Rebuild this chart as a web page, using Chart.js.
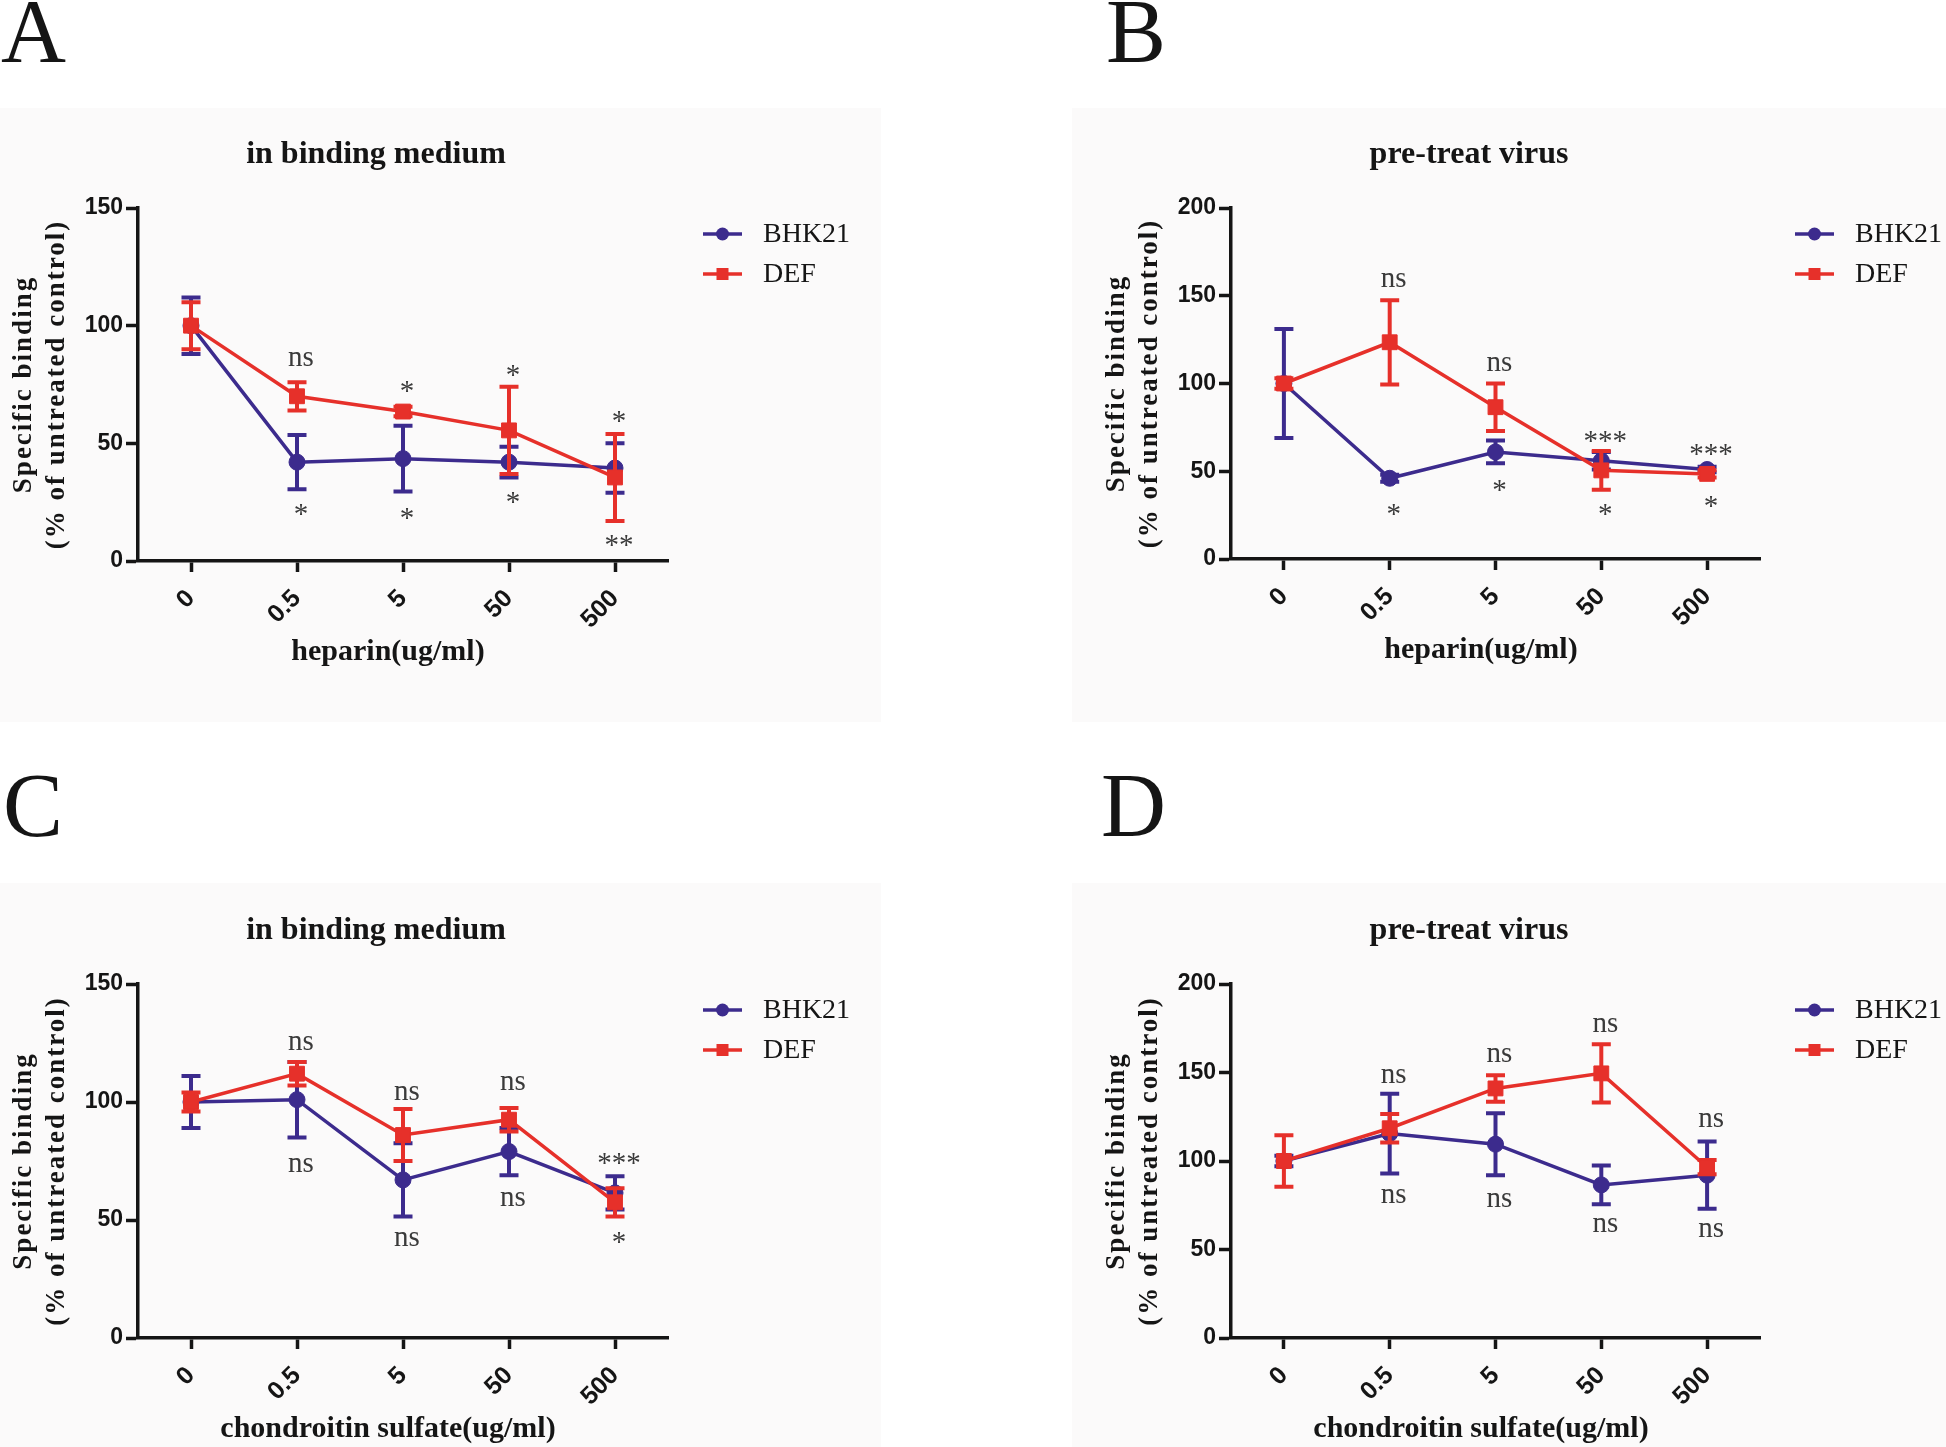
<!DOCTYPE html>
<html>
<head>
<meta charset="utf-8">
<script src="https://cdn.jsdelivr.net/npm/chart.js@4.4.1/dist/chart.umd.min.js"></script>
<style>
html, body { margin: 0; padding: 0; background: #ffffff; }
body { width: 1946px; height: 1447px; position: relative; overflow: hidden; }
.panel { position: absolute; background: #fbfafa; }
.panel canvas { position: absolute; left: 0; top: 0; }
.letter { position: absolute; font-family: 'Liberation Serif', 'Times New Roman', serif; font-size: 90px; line-height: 90px; color: #151515; }
</style>
</head>
<body>
<div class="letter" style="left:1px;top:-13px">A</div>
<div class="letter" style="left:1106px;top:-13px">B</div>
<div class="letter" style="left:3px;top:761px">C</div>
<div class="letter" style="left:1101px;top:761px">D</div>

<div class="panel" style="left:0;top:108px;width:881px;height:614px"><canvas id="cA"></canvas></div>
<div class="panel" style="left:1072px;top:108px;width:874px;height:614px"><canvas id="cB"></canvas></div>
<div class="panel" style="left:0;top:883px;width:881px;height:564px"><canvas id="cC"></canvas></div>
<div class="panel" style="left:1072px;top:883px;width:874px;height:564px"><canvas id="cD"></canvas></div>

<script>
// ---------------- data ----------------
const categories = ['0', '0.5', '5', '50', '500'];
const seriesNames = ['BHK21', 'DEF'];
const yTitleLines = ['Specific binding', '(% of untreated control)'];

// A: heparin, in binding medium
const bhk21HepMedium    = [100, 42, 43.5, 42, 39.5];
const bhk21HepMediumErr = [12, 11.5, 14, 6.5, 10.5];
const defHepMedium      = [100, 70, 63.5, 55.5, 35.5];
const defHepMediumErr   = [10, 6, 2, 18.5, 18.5];
const sigHepMediumText  = ['ns', '*', '*', '*', '*', '*', '*', '**'];
const sigHepMediumCat   = [1, 2, 3, 4, 1, 2, 3, 4];
const sigHepMediumY     = [86, 74, 81, 61.5, 22, 20, 27, 8.5];

// B: heparin, pre-treat virus
const bhk21HepVirus     = [100, 46, 61, 56, 51];
const bhk21HepVirusErr  = [31, 2, 6.5, 5, 1.5];
const defHepVirus       = [100, 123.5, 86.5, 50.5, 48.5];
const defHepVirusErr    = [3, 24, 13.5, 11, 2];
const sigHepVirusText   = ['ns', 'ns', '***', '***', '*', '*', '*', '*'];
const sigHepVirusCat    = [1, 2, 3, 4, 1, 2, 3, 4];
const sigHepVirusY      = [159, 111, 70, 62.5, 28, 42, 28, 33];

// C: chondroitin sulfate, in binding medium
const bhk21CsMedium     = [100, 101, 67, 79, 61.5];
const bhk21CsMediumErr  = [11, 16, 15.5, 10, 7];
const defCsMedium       = [100, 112, 86, 92.5, 57.5];
const defCsMediumErr    = [4, 5, 11, 5, 6];
const sigCsMediumText   = ['ns', 'ns', 'ns', '***', 'ns', 'ns', 'ns', '*'];
const sigCsMediumCat    = [1, 2, 3, 4, 1, 2, 3, 4];
const sigCsMediumY      = [125, 104, 108, 76, 73.5, 42, 59, 42.5];

// D: chondroitin sulfate, pre-treat virus
const bhk21CsVirus      = [100, 115.5, 109.5, 86.5, 92];
const bhk21CsVirusErr   = [3, 22.5, 17.5, 11, 19];
const defCsVirus        = [100, 118.5, 141, 149.5, 96.5];
const defCsVirusErr     = [14.5, 8, 7.5, 16.5, 4];
const sigCsVirusText    = ['ns', 'ns', 'ns', 'ns', 'ns', 'ns', 'ns', 'ns'];
const sigCsVirusCat     = [1, 2, 3, 4, 1, 2, 3, 4];
const sigCsVirusY       = [148, 160, 177, 123, 80, 78, 64, 61];

// ---------------- styles ----------------
const BLUE = '#3c2b8d';
const RED = '#e6302a';
const INK = '#151515';
const SERIF = "'Liberation Serif', 'Times New Roman', serif";
const SANS = "'Liberation Sans', Arial, sans-serif";

function drawCenteredText(ctx, text, x, y) {
  ctx.textBaseline = 'alphabetic';
  const m = ctx.measureText(text);
  ctx.fillText(text, x, y + (m.actualBoundingBoxAscent - m.actualBoundingBoxDescent) / 2);
}

const decorPlugin = {
  id: 'decor',
  beforeDatasetDraw(chart, args) {
    const ds = chart.data.datasets[args.index];
    if (!ds.errors) return;
    const ctx = chart.ctx, ys = chart.scales.y;
    ctx.save();
    ctx.strokeStyle = ds.borderColor;
    ctx.lineWidth = 4;
    args.meta.data.forEach((pt, i) => {
      const e = ds.errors[i];
      if (!e) return;
      const x = pt.x;
      const yt = ys.getPixelForValue(ds.data[i] + e);
      const yb = ys.getPixelForValue(ds.data[i] - e);
      ctx.beginPath();
      ctx.moveTo(x, yt); ctx.lineTo(x, yb);
      ctx.moveTo(x - 9.5, yt); ctx.lineTo(x + 9.5, yt);
      ctx.moveTo(x - 9.5, yb); ctx.lineTo(x + 9.5, yb);
      ctx.stroke();
    });
    ctx.restore();
  },
  afterDatasetsDraw(chart, args, opts) {
    const ctx = chart.ctx, xs = chart.scales.x, ys = chart.scales.y;
    ctx.save();
    ctx.fillStyle = '#3a3a3a';
    ctx.font = '29px ' + SERIF;
    ctx.textAlign = 'center';
    opts.sigText.forEach((t, i) => {
      const x = xs.getPixelForValue(opts.sigCat[i]) + 4;
      const y = ys.getPixelForValue(opts.sigY[i]);
      drawCenteredText(ctx, t, x, y);
    });
    ctx.restore();
  },
  afterDraw(chart, args, opts) {
    const ctx = chart.ctx, ca = chart.chartArea;
    ctx.save();
    ctx.fillStyle = INK;
    ctx.textAlign = 'center';
    ctx.textBaseline = 'middle';
    // chart title
    ctx.font = 'bold 32px ' + SERIF;
    ctx.fillText(opts.title, ca.left + 238, ca.top - 53);
    // x-axis title
    ctx.font = 'bold 30px ' + SERIF;
    ctx.fillText(opts.xTitle, ca.left + 250, ca.bottom + 91);
    // y-axis title (two lines)
    ctx.font = 'bold 27px ' + SERIF;
    ctx.letterSpacing = '2px';
    const cy = (ca.top + ca.bottom) / 2;
    [ca.left - 114, ca.left - 81].forEach((x, i) => {
      ctx.save();
      ctx.translate(x, cy);
      ctx.rotate(-Math.PI / 2);
      ctx.fillText(yTitleLines[i], 0, 0);
      ctx.restore();
    });
    ctx.letterSpacing = '0px';
    // legend
    const order = [0, 1];
    order.forEach((di, row) => {
      const ds = chart.data.datasets[di];
      const y = ca.top + 26 + row * 40;
      const x0 = ca.right + 35, x1 = ca.right + 74, xm = (x0 + x1) / 2;
      ctx.strokeStyle = ds.borderColor;
      ctx.fillStyle = ds.borderColor;
      ctx.lineWidth = 3.5;
      ctx.beginPath(); ctx.moveTo(x0, y); ctx.lineTo(x1, y); ctx.stroke();
      if (ds.pointStyle === 'circle') {
        ctx.beginPath(); ctx.arc(xm, y, 6.5, 0, Math.PI * 2); ctx.fill();
      } else {
        ctx.fillRect(xm - 6, y - 6, 12, 12);
      }
      ctx.fillStyle = INK;
      ctx.font = '28px ' + SERIF;
      ctx.textAlign = 'left';
      ctx.fillText(ds.label, ca.right + 95, y + 1);
    });
    ctx.restore();
  }
};

function makeChart(id, w, h, area, yMax, bhk, bhkErr, def, defErr, decor) {
  const canvas = document.getElementById(id);
  canvas.width = w; canvas.height = h;
  canvas.style.width = w + 'px'; canvas.style.height = h + 'px';
  return new Chart(canvas, {
    type: 'line',
    data: {
      labels: categories,
      datasets: [
        { label: seriesNames[0], data: bhk, errors: bhkErr, order: 1,
          borderColor: BLUE, backgroundColor: BLUE, borderWidth: 3.5,
          pointStyle: 'circle', pointRadius: 8, pointBorderWidth: 1,
          pointBackgroundColor: BLUE, pointBorderColor: BLUE, tension: 0, clip: false },
        { label: seriesNames[1], data: def, errors: defErr, order: 0,
          borderColor: RED, backgroundColor: RED, borderWidth: 3.5,
          pointStyle: 'rect', pointRadius: 10.5, pointBorderWidth: 1,
          pointBackgroundColor: RED, pointBorderColor: RED, tension: 0, clip: false }
      ]
    },
    options: {
      responsive: false,
      animation: false,
      devicePixelRatio: 1,
      layout: { padding: { left: 0, top: area.top, right: w - area.right, bottom: 0 } },
      plugins: {
        legend: { display: false },
        title: { display: false },
        tooltip: { enabled: false },
        decor: decor
      },
      scales: {
        x: {
          type: 'category',
          offset: true,
          afterFit: (s) => { s.height = h - area.bottom; },
          grid: { display: true, drawOnChartArea: false, drawTicks: true, tickLength: 11, tickWidth: 3.5, tickColor: INK, offset: false },
          border: { display: true, color: INK, width: 3.5 },
          ticks: { autoSkip: false, minRotation: 45, maxRotation: 45, padding: 12, color: INK,
                   font: { family: SANS, size: 25, weight: 'bold' } }
        },
        y: {
          min: 0, max: yMax,
          afterFit: (s) => { s.width = area.left; },
          grid: { display: true, drawOnChartArea: false, drawTicks: true, tickLength: 12, tickWidth: 3.5, tickColor: INK },
          border: { display: true, color: INK, width: 3.5 },
          ticks: { stepSize: 50, padding: 3, color: INK,
                   font: { family: SANS, size: 23, weight: 'bold' } }
        }
      }
    },
    plugins: [decorPlugin]
  });
}

makeChart('cA', 881, 614, { left: 138, top: 100, right: 668, bottom: 453 }, 150,
  bhk21HepMedium, bhk21HepMediumErr, defHepMedium, defHepMediumErr,
  { title: 'in binding medium', xTitle: 'heparin(ug/ml)',
    sigText: sigHepMediumText, sigCat: sigHepMediumCat, sigY: sigHepMediumY });

makeChart('cB', 874, 614, { left: 159, top: 100, right: 688, bottom: 451 }, 200,
  bhk21HepVirus, bhk21HepVirusErr, defHepVirus, defHepVirusErr,
  { title: 'pre-treat virus', xTitle: 'heparin(ug/ml)',
    sigText: sigHepVirusText, sigCat: sigHepVirusCat, sigY: sigHepVirusY });

makeChart('cC', 881, 564, { left: 138, top: 101, right: 668, bottom: 455 }, 150,
  bhk21CsMedium, bhk21CsMediumErr, defCsMedium, defCsMediumErr,
  { title: 'in binding medium', xTitle: 'chondroitin sulfate(ug/ml)',
    sigText: sigCsMediumText, sigCat: sigCsMediumCat, sigY: sigCsMediumY });

makeChart('cD', 874, 564, { left: 159, top: 101, right: 688, bottom: 455 }, 200,
  bhk21CsVirus, bhk21CsVirusErr, defCsVirus, defCsVirusErr,
  { title: 'pre-treat virus', xTitle: 'chondroitin sulfate(ug/ml)',
    sigText: sigCsVirusText, sigCat: sigCsVirusCat, sigY: sigCsVirusY });
</script>
</body>
</html>
